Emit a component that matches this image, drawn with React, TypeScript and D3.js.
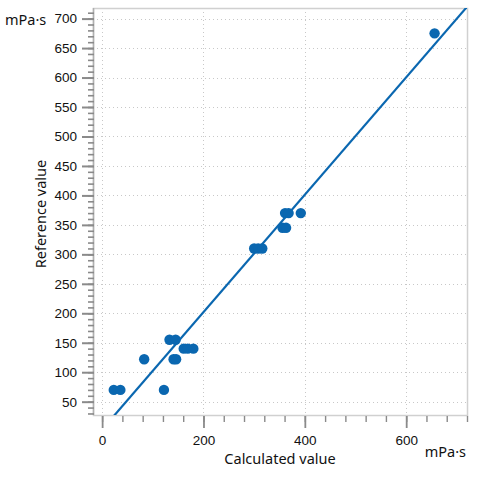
import * as d3 from "d3";
import React, { useRef, useEffect } from "react";

// calculated vs reference viscosity, mPa·s
const calcValues = [23, 36, 83, 122, 133, 145, 141, 146, 161, 169, 180, 300, 308, 316, 356, 363, 361, 368, 392, 656];
const refValues = [70, 70, 122, 70, 155, 155, 122, 122, 140, 140, 140, 310, 310, 310, 345, 345, 370, 370, 370, 675];
const fitIntercept = 2.75;
const fitSlope = 0.996;
const xTicks = [0, 200, 400, 600];
const yTicks = [50, 100, 150, 200, 250, 300, 350, 400, 450, 500, 550, 600, 650, 700];

const W = 480;
const H = 480;
const margin = { top: 8, right: 13, bottom: 65, left: 93 };
const blue = "#0a67b0";
const axisGrey = "#8a8a8a";
const font = "'Liberation Sans', Arial, sans-serif";
const titleFont = "'Noto Sans', 'Open Sans', sans-serif";

function App() {
  const ref = useRef<SVGSVGElement>(null);

  useEffect(() => {
    const svg = d3.select(ref.current);
    svg.selectAll("*").remove();
    const iw = W - margin.left - margin.right;
    const ih = H - margin.top - margin.bottom;

    const x = d3.scaleLinear().domain([-18, 720]).range([0, iw]);
    const y = d3.scaleLinear().domain([27.4, 718]).range([ih, 0]);

    const g = svg.append("g").attr("transform", "translate(" + margin.left + "," + margin.top + ")");

    // grid
    g.append("g")
      .selectAll("line")
      .data(yTicks)
      .enter()
      .append("line")
      .attr("x1", 0)
      .attr("x2", iw)
      .attr("y1", (d) => Math.round(y(d)) + 0.5)
      .attr("y2", (d) => Math.round(y(d)) + 0.5)
      .attr("stroke", "#c8c8c8")
      .attr("stroke-dasharray", "1,3");
    g.append("g")
      .selectAll("line")
      .data(xTicks)
      .enter()
      .append("line")
      .attr("y1", 0)
      .attr("y2", ih)
      .attr("x1", (d) => Math.round(x(d)) + 0.5)
      .attr("x2", (d) => Math.round(x(d)) + 0.5)
      .attr("stroke", "#c8c8c8")
      .attr("stroke-dasharray", "1,3");

    // frame
    g.append("rect")
      .attr("x", 0.5)
      .attr("y", 0.5)
      .attr("width", iw)
      .attr("height", ih)
      .attr("fill", "none")
      .attr("stroke", "#d0d0d0")
      .attr("stroke-width", 1.5);
    g.append("line")
      .attr("x1", 0.5)
      .attr("x2", 0.5)
      .attr("y1", 0)
      .attr("y2", ih)
      .attr("stroke", "#b0b0b0")
      .attr("stroke-width", 1.5);

    // y axis
    const yAxis = g.append("g").attr("transform", "translate(1,0)");
    yAxis
      .call(d3.axisLeft(y).tickValues(d3.range(30, 720, 10)).tickSize(6).tickFormat(() => ""))
      .call((s) => s.select(".domain").remove())
      .selectAll("line")
      .attr("stroke", axisGrey)
      .attr("stroke-width", 1.6);
    const yMajor = g.append("g").attr("transform", "translate(1,0)");
    yMajor
      .call(d3.axisLeft(y).tickValues(yTicks).tickSize(12).tickPadding(5))
      .call((s) => s.select(".domain").remove())
      .call((s) => s.selectAll("line").attr("stroke", axisGrey).attr("stroke-width", 2))
      .selectAll("text")
      .attr("font-family", font)
      .attr("font-size", 13.5)
      .attr("fill", "#111");

    // x axis
    const xAxis = g.append("g").attr("transform", "translate(0," + (ih + 1) + ")");
    xAxis
      .call(d3.axisBottom(x).tickValues(d3.range(0, 721, 40)).tickSize(6).tickFormat(() => ""))
      .call((s) => s.select(".domain").remove())
      .selectAll("line")
      .attr("stroke", axisGrey)
      .attr("stroke-width", 1.4);
    const xMajor = g.append("g").attr("transform", "translate(0," + (ih + 1) + ")");
    xMajor
      .call(d3.axisBottom(x).tickValues(xTicks).tickSize(12).tickPadding(7))
      .call((s) => s.select(".domain").remove())
      .call((s) => s.selectAll("line").attr("stroke", axisGrey).attr("stroke-width", 1.8))
      .selectAll("text")
      .attr("font-family", font)
      .attr("font-size", 13.5)
      .attr("fill", "#111");

    // regression line, clipped to plot area
    svg
      .append("defs")
      .append("clipPath")
      .attr("id", "plotclip")
      .append("rect")
      .attr("width", iw)
      .attr("height", ih);
    const fx = x.domain();
    g.append("line")
      .attr("clip-path", "url(#plotclip)")
      .attr("x1", x(fx[0]))
      .attr("y1", y(fitIntercept + fitSlope * fx[0]))
      .attr("x2", x(fx[1]))
      .attr("y2", y(fitIntercept + fitSlope * fx[1]))
      .attr("stroke", blue)
      .attr("stroke-width", 2.2);

    // points
    g.append("g")
      .selectAll("circle")
      .data(calcValues)
      .enter()
      .append("circle")
      .attr("cx", (d) => x(d))
      .attr("cy", (d, i) => y(refValues[i]))
      .attr("r", 5.2)
      .attr("fill", blue);

    // labels
    svg
      .append("text")
      .attr("x", 5)
      .attr("y", 25)
      .attr("font-family", titleFont)
      .attr("font-size", 14.5)
      .attr("fill", "#111")
      .text("mPa·s");
    svg
      .append("text")
      .attr("transform", "translate(46,214) rotate(-90)")
      .attr("text-anchor", "middle")
      .attr("font-family", titleFont)
      .attr("font-size", 14.5)
      .attr("fill", "#111")
      .text("Reference value");
    svg
      .append("text")
      .attr("x", 280)
      .attr("y", 464)
      .attr("text-anchor", "middle")
      .attr("font-family", titleFont)
      .attr("font-size", 14.5)
      .attr("fill", "#111")
      .text("Calculated value");
    svg
      .append("text")
      .attr("x", 466)
      .attr("y", 457)
      .attr("text-anchor", "end")
      .attr("font-family", titleFont)
      .attr("font-size", 14.5)
      .attr("fill", "#111")
      .text("mPa·s");
  }, []);

  return (
    <div className="chart">
      <svg
        ref={ref}
        width={W}
        height={H}
        style={{ position: "absolute", left: 0, top: 0, background: "#fff" }}
      ></svg>
    </div>
  );
}

export default App;
